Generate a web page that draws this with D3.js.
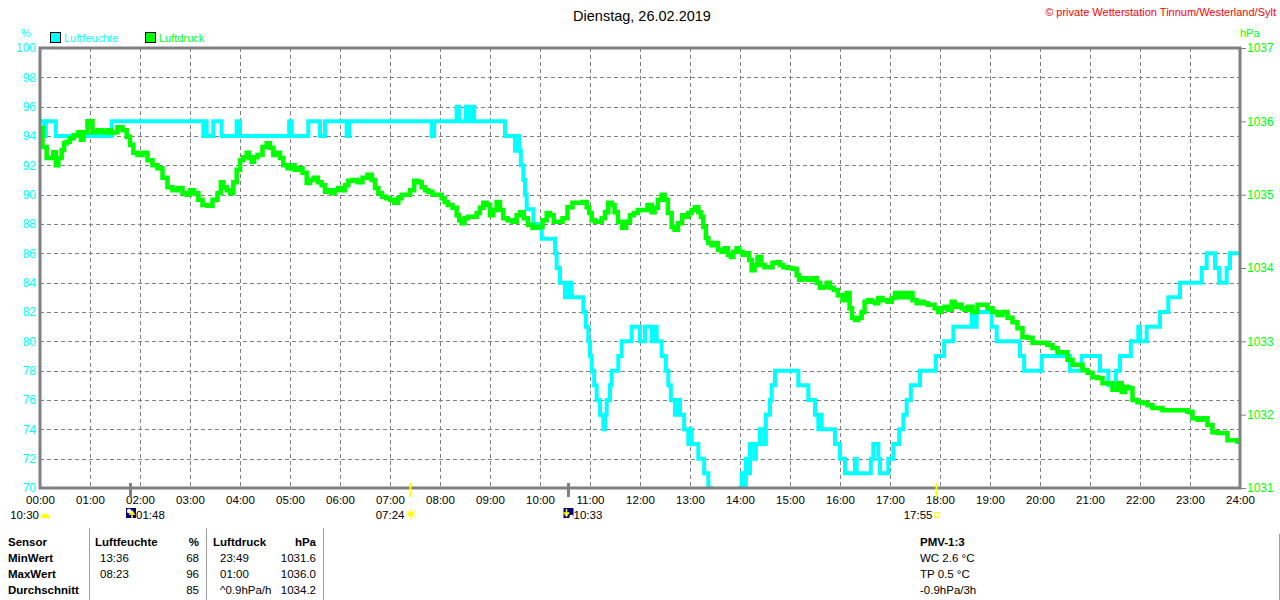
<!DOCTYPE html>
<html>
<head>
<meta charset="utf-8">
<script src="https://cdnjs.cloudflare.com/ajax/libs/d3/7.8.5/d3.min.js"></script>
<style>
  body { margin: 0; background: #fff; }
  svg { display: block; font-family: "Liberation Sans", Arial, sans-serif; }
</style>
</head>
<body>
<svg id="chart" width="1280" height="600"></svg>
<script>
// Luftfeuchte (%), minutes since midnight -> value (step series)
const HUM_MIN = [0, 5, 7, 19, 86, 196, 198, 200, 208, 218, 236, 240, 299, 302, 322, 336, 342, 368, 371, 470,
  473, 500, 503, 511, 514, 517, 521, 558, 570, 572, 575, 577, 580, 582, 584, 592, 602, 618, 620, 624,
  630, 635, 638, 652, 655, 658, 660, 662, 665, 668, 672, 676, 678, 680, 684, 686, 694, 698, 710, 720,
  726, 734, 737, 740, 746, 751, 754, 757, 762, 766, 768, 773, 778, 780, 782, 790, 797, 802, 805, 811,
  833, 840, 842, 845, 847, 850, 852, 857, 859, 864, 869, 871, 876, 878, 882, 910, 922, 930, 934, 936,
  938, 954, 960, 966, 978, 980, 997, 1000, 1006, 1008, 1018, 1024, 1031, 1036, 1040, 1045, 1056, 1075, 1085, 1096,
  1118, 1122, 1124, 1142, 1148, 1176, 1181, 1202, 1236, 1250, 1272, 1282, 1291, 1296, 1309, 1318, 1320, 1328, 1344, 1354,
  1368, 1394, 1400, 1410, 1415, 1424, 1428, 1440];
const HUM_VAL = [95, 94, 95, 94, 95, 94, 95, 94, 95, 94, 95, 94, 95, 94, 95, 94, 95, 94, 95, 94,
  95, 96, 95, 96, 95, 96, 95, 94, 93, 94, 93, 92, 91, 90, 89, 88, 87, 86, 85, 84,
  83, 84, 83, 82, 81, 80, 79, 78, 77, 76, 75, 74, 75, 76, 77, 78, 79, 80, 81, 80,
  81, 80, 81, 80, 79, 78, 77, 76, 75, 76, 75, 74, 73, 74, 73, 72, 71, 70, 69, 68,
  69, 70, 71, 70, 72, 71, 73, 72, 73, 74, 73, 75, 76, 77, 78, 77, 76, 75, 74, 75,
  74, 73, 72, 71, 72, 71, 72, 73, 72, 71, 72, 73, 74, 75, 76, 77, 78, 79, 80, 81,
  82, 81, 82, 81, 80, 79, 78, 79, 78, 79, 78, 77, 78, 79, 80, 81, 80, 81, 82, 83,
  84, 85, 86, 85, 84, 85, 86, 86];

// Luftdruck (hPa)
const PRES_MIN = [0, 6, 10, 14, 18, 20, 24, 28, 30, 34, 38, 43, 48, 50, 54, 60, 66, 72, 78, 84,
  86, 90, 96, 102, 106, 110, 114, 120, 126, 132, 138, 144, 150, 156, 162, 168, 174, 178, 182, 188,
  192, 198, 204, 210, 216, 218, 222, 226, 230, 234, 238, 242, 246, 250, 252, 256, 258, 264, 270, 274,
  278, 282, 286, 290, 294, 300, 304, 307, 312, 318, 322, 326, 331, 336, 340, 344, 348, 352, 355, 360,
  364, 368, 372, 378, 384, 390, 396, 400, 404, 408, 413, 418, 422, 428, 432, 436, 442, 446, 452, 456,
  460, 464, 468, 474, 480, 484, 487, 492, 498, 502, 504, 508, 511, 516, 522, 526, 530, 534, 538, 542,
  546, 550, 554, 558, 564, 570, 574, 578, 583, 588, 594, 600, 606, 610, 614, 619, 624, 630, 636, 642,
  648, 654, 658, 660, 664, 668, 672, 676, 680, 684, 688, 691, 696, 701, 706, 710, 715, 720, 726, 732,
  736, 739, 744, 748, 751, 756, 760, 763, 768, 773, 776, 780, 784, 788, 792, 794, 798, 800, 804, 808,
  811, 816, 820, 823, 828, 830, 834, 838, 840, 846, 850, 852, 856, 859, 863, 868, 871, 876, 882, 886,
  890, 894, 900, 906, 910, 912, 918, 924, 930, 934, 938, 942, 946, 950, 955, 960, 966, 970, 973, 976,
  980, 984, 988, 991, 996, 1000, 1004, 1008, 1014, 1020, 1024, 1028, 1032, 1036, 1040, 1044, 1050, 1054, 1058, 1063,
  1068, 1072, 1075, 1080, 1084, 1087, 1092, 1096, 1099, 1104, 1108, 1111, 1116, 1122, 1128, 1134, 1140, 1146, 1152, 1158,
  1164, 1170, 1176, 1182, 1188, 1194, 1200, 1206, 1212, 1218, 1224, 1230, 1236, 1242, 1248, 1254, 1260, 1266, 1272, 1278,
  1284, 1290, 1296, 1300, 1304, 1308, 1314, 1320, 1326, 1332, 1338, 1344, 1350, 1356, 1362, 1368, 1374, 1380, 1386, 1392,
  1398, 1404, 1410, 1416, 1422, 1428, 1434, 1440];
const PRES_VAL = [1035.91, 1035.65, 1035.50, 1035.50, 1035.58, 1035.40, 1035.50, 1035.61, 1035.70, 1035.72, 1035.77, 1035.81, 1035.85, 1035.75, 1035.85, 1036.00, 1035.85, 1035.88, 1035.85, 1035.88,
  1035.84, 1035.85, 1035.92, 1035.88, 1035.79, 1035.68, 1035.57, 1035.54, 1035.57, 1035.47, 1035.40, 1035.36, 1035.23, 1035.10, 1035.06, 1035.09, 1035.02, 1035.00, 1035.06, 1035.02,
  1034.93, 1034.86, 1034.85, 1034.93, 1035.02, 1035.17, 1035.10, 1035.06, 1035.02, 1035.17, 1035.34, 1035.47, 1035.51, 1035.57, 1035.50, 1035.45, 1035.51, 1035.54, 1035.65, 1035.70,
  1035.64, 1035.54, 1035.57, 1035.50, 1035.40, 1035.36, 1035.40, 1035.34, 1035.36, 1035.30, 1035.16, 1035.20, 1035.23, 1035.17, 1035.13, 1035.04, 1035.06, 1035.02, 1035.06, 1035.09,
  1035.06, 1035.13, 1035.19, 1035.20, 1035.17, 1035.23, 1035.27, 1035.20, 1035.09, 1035.02, 1034.97, 1034.95, 1034.93, 1034.89, 1034.95, 1035.00, 1035.00, 1035.06, 1035.19, 1035.17,
  1035.10, 1035.06, 1035.04, 1035.00, 1035.00, 1034.95, 1034.90, 1034.86, 1034.82, 1034.72, 1034.65, 1034.61, 1034.68, 1034.70, 1034.70, 1034.75, 1034.82, 1034.89, 1034.86, 1034.72,
  1034.79, 1034.90, 1034.79, 1034.68, 1034.65, 1034.63, 1034.72, 1034.76, 1034.68, 1034.59, 1034.55, 1034.56, 1034.65, 1034.75, 1034.72, 1034.63, 1034.63, 1034.68, 1034.83, 1034.89,
  1034.89, 1034.90, 1034.83, 1034.75, 1034.65, 1034.63, 1034.63, 1034.68, 1034.76, 1034.89, 1034.86, 1034.76, 1034.63, 1034.55, 1034.63, 1034.72, 1034.75, 1034.79, 1034.79, 1034.86,
  1034.76, 1034.82, 1034.93, 1035.00, 1034.93, 1034.75, 1034.56, 1034.52, 1034.61, 1034.72, 1034.70, 1034.75, 1034.79, 1034.83, 1034.76, 1034.70, 1034.56, 1034.41, 1034.34, 1034.31,
  1034.34, 1034.25, 1034.22, 1034.27, 1034.18, 1034.15, 1034.22, 1034.27, 1034.22, 1034.18, 1034.20, 1034.11, 1033.97, 1034.04, 1034.15, 1034.04, 1034.01, 1034.01, 1034.07, 1034.08,
  1034.04, 1034.01, 1034.00, 1033.99, 1033.90, 1033.84, 1033.86, 1033.84, 1033.86, 1033.80, 1033.73, 1033.74, 1033.80, 1033.73, 1033.70, 1033.63, 1033.56, 1033.66, 1033.45, 1033.32,
  1033.29, 1033.32, 1033.40, 1033.54, 1033.56, 1033.54, 1033.52, 1033.59, 1033.56, 1033.54, 1033.59, 1033.66, 1033.60, 1033.66, 1033.60, 1033.66, 1033.56, 1033.52, 1033.54, 1033.52,
  1033.50, 1033.50, 1033.45, 1033.40, 1033.45, 1033.47, 1033.43, 1033.54, 1033.47, 1033.50, 1033.45, 1033.43, 1033.47, 1033.40, 1033.50, 1033.50, 1033.45, 1033.40, 1033.36, 1033.40,
  1033.32, 1033.26, 1033.18, 1033.06, 1033.05, 1032.98, 1032.98, 1032.98, 1032.95, 1032.91, 1032.85, 1032.85, 1032.75, 1032.68, 1032.68, 1032.61, 1032.57, 1032.51, 1032.50, 1032.43,
  1032.43, 1032.34, 1032.43, 1032.31, 1032.38, 1032.36, 1032.20, 1032.17, 1032.16, 1032.13, 1032.09, 1032.09, 1032.06, 1032.06, 1032.06, 1032.06, 1032.06, 1032.04, 1031.95, 1031.93,
  1031.95, 1031.86, 1031.76, 1031.75, 1031.75, 1031.65, 1031.65, 1031.63];

const HUM_TICKS = [70, 72, 74, 76, 78, 80, 82, 84, 86, 88, 90, 92, 94, 96, 98, 100];
const PRES_TICKS = [1031, 1032, 1033, 1034, 1035, 1036, 1037];
const HOUR_LABELS = ['00:00', '01:00', '02:00', '03:00', '04:00', '05:00', '06:00', '07:00', '08:00', '09:00',
  '10:00', '11:00', '12:00', '13:00', '14:00', '15:00', '16:00', '17:00', '18:00', '19:00', '20:00', '21:00',
  '22:00', '23:00', '24:00'];

// Mond / Sonne Ereignisse
const ASTRO_TIMES = ['01:48', '07:24', '10:33', '17:55'];
const ASTRO_KINDS = ['moonrise', 'sunrise', 'moonset', 'sunset'];
const DAY_LENGTH = '10:30';

const TABLE_HEAD = ['Sensor', 'Luftfeuchte', '%', 'Luftdruck', 'hPa'];
const TABLE_ROWS = [
  ['MinWert', '13:36', '68', '23:49', '1031.6'],
  ['MaxWert', '08:23', '96', '01:00', '1036.0'],
  ['Durchschnitt', '', '85', '^0.9hPa/h', '1034.2']
];
const PMV_TITLE = 'PMV-1:3';
const PMV_LINES = ['WC 2.6 °C', 'TP 0.5 °C', '-0.9hPa/3h'];

const CYAN = '#00ffff';
const GREEN = '#00ff00';
const GRAY = '#808080';
const FONT = '"Liberation Sans", Arial, sans-serif';

const toMin = s => { const [h, m] = s.split(':').map(Number); return h * 60 + m; };

const svg = d3.select('#chart');
const pLeft = 40, pRight = 1240, pTop = 48, pBottom = 488;

const x = d3.scaleLinear().domain([0, 1440]).range([pLeft, pRight]);
const yHum = d3.scaleLinear().domain([70, 100]).range([pBottom, pTop]);
const yPres = d3.scaleLinear().domain([1031, 1037]).range([pBottom, pTop]);

// title + copyright
svg.append('text').attr('x', 642).attr('y', 21).attr('text-anchor', 'middle')
  .style('font-size', '14.5px').text('Dienstag, 26.02.2019');
svg.append('text').attr('x', 1276).attr('y', 16).attr('text-anchor', 'end')
  .attr('fill', '#ff0000').style('font-size', '11px')
  .text('© private Wetterstation Tinnum/Westerland/Sylt');

// unit labels
svg.append('text').attr('x', 26).attr('y', 37).attr('text-anchor', 'middle')
  .attr('fill', CYAN).style('font-size', '11px').text('%');
svg.append('text').attr('x', 1240).attr('y', 37)
  .attr('fill', GREEN).style('font-size', '11px').text('hPa');

// legend
const legend = svg.append('g');
[['Luftfeuchte', CYAN, 50], ['Luftdruck', GREEN, 145]].forEach(([name, col, lx]) => {
  legend.append('rect').attr('x', lx + 0.5).attr('y', 32.5).attr('width', 10).attr('height', 10)
    .attr('fill', col).attr('stroke', '#000');
  legend.append('text').attr('x', lx + 14).attr('y', 42).attr('fill', col)
    .style('font-size', '11px').text(name);
});

// grid
const grid = svg.append('g').attr('stroke', GRAY).attr('stroke-width', 1).attr('stroke-dasharray', '4,3');
grid.selectAll('line.h').data(HUM_TICKS.slice(1, -1)).join('line')
  .attr('x1', pLeft).attr('x2', pRight)
  .attr('y1', d => Math.round(yHum(d)) + 0.5).attr('y2', d => Math.round(yHum(d)) + 0.5);
grid.selectAll('line.v').data(HOUR_LABELS.slice(1, -1)).join('line')
  .attr('y1', pTop).attr('y2', pBottom)
  .attr('x1', d => x(toMin(d)) + 0.5).attr('x2', d => x(toMin(d)) + 0.5);

// series
svg.append('clipPath').attr('id', 'plot').append('rect')
  .attr('x', pLeft).attr('y', pTop).attr('width', pRight - pLeft).attr('height', pBottom - pTop);

const humData = HUM_MIN.map((m, i) => [m, HUM_VAL[i]]);
const presData = PRES_MIN.map((m, i) => [m, PRES_VAL[i]]);

const humLine = d3.line().x(d => x(d[0])).y(d => yHum(d[1])).curve(d3.curveStepAfter);
const presLine = d3.line().x(d => x(d[0])).y(d => yPres(d[1])).curve(d3.curveStep);

const plot = svg.append('g').attr('clip-path', 'url(#plot)');
plot.append('path').datum(humData).attr('d', humLine)
  .attr('fill', 'none').attr('stroke', CYAN).attr('stroke-width', 4);
plot.append('path').datum(presData).attr('d', presLine)
  .attr('fill', 'none').attr('stroke', GREEN).attr('stroke-width', 4.5);

// frame
svg.append('rect').attr('x', pLeft).attr('y', pTop).attr('width', pRight - pLeft).attr('height', pBottom - pTop)
  .attr('fill', 'none').attr('stroke', GRAY).attr('stroke-width', 3);

// axes
const axL = svg.append('g').attr('transform', `translate(${pLeft - 2},0)`)
  .call(d3.axisLeft(yHum).tickValues(HUM_TICKS).tickSize(0).tickPadding(2));
axL.select('.domain').remove();
axL.selectAll('text').attr('fill', CYAN).style('font-size', '12px').style('font-family', FONT);

const axR = svg.append('g').attr('transform', `translate(${pRight + 1},0)`)
  .call(d3.axisRight(yPres).tickValues(PRES_TICKS).tickSize(5).tickPadding(1).tickFormat(d3.format('d')));
axR.select('.domain').remove();
axR.selectAll('line').attr('stroke', GRAY);
axR.selectAll('text').attr('fill', GREEN).style('font-size', '12px').style('font-family', FONT);

const axB = svg.append('g').attr('transform', `translate(0,${pBottom + 2})`)
  .call(d3.axisBottom(x).tickValues(HOUR_LABELS.map(toMin)).tickSize(0).tickPadding(6)
    .tickFormat((d, i) => HOUR_LABELS[i]));
axB.select('.domain').remove();
axB.selectAll('text').attr('fill', '#000').style('font-size', '11.5px').style('font-family', FONT);

// astro markers
const astro = svg.append('g').style('font-size', '11.5px');
ASTRO_TIMES.forEach((t, i) => {
  const kind = ASTRO_KINDS[i];
  const ax = Math.round(x(toMin(t))) + 0.5;
  const sun = kind.startsWith('sun');
  const rising = kind.endsWith('rise');
  astro.append('line').attr('x1', ax).attr('x2', ax).attr('y1', 483).attr('y2', 497)
    .attr('stroke', sun ? '#ffff00' : GRAY).attr('stroke-width', sun ? 2 : 3);
  if (sun && rising) {
    const g = astro.append('g').attr('transform', `translate(${ax + 0.5},514)`);
    g.append('circle').attr('r', 2.8).attr('fill', '#ffff00');
    d3.range(8).forEach(k => {
      const a = k * Math.PI / 4;
      g.append('line').attr('x1', Math.cos(a) * 3.5).attr('y1', Math.sin(a) * 3.5)
        .attr('x2', Math.cos(a) * 5.5).attr('y2', Math.sin(a) * 5.5)
        .attr('stroke', '#ffff00').attr('stroke-width', 1);
    });
    astro.append('text').attr('x', ax - 6).attr('y', 519).attr('text-anchor', 'end').text(t);
  } else if (sun) {
    astro.append('rect').attr('x', ax - 2.5).attr('y', 512.5).attr('width', 5).attr('height', 5)
      .attr('fill', 'none').attr('stroke', '#ffff00').attr('stroke-width', 1);
    astro.append('text').attr('x', ax - 4).attr('y', 519).attr('text-anchor', 'end').text(t);
  } else {
    const bx = rising ? ax - 4.5 : ax - 5;
    const g = astro.append('g').attr('transform', `translate(${bx},508)`);
    g.append('rect').attr('width', 10).attr('height', 10).attr('fill', '#000080');
    if (rising) {
      g.append('circle').attr('cx', 3).attr('cy', 3).attr('r', 2.2).attr('fill', '#fff');
      g.append('path').attr('d', 'M6,10 L6,5 M4,6 L6,3 L8,6 Z').attr('stroke', '#ffff00')
        .attr('stroke-width', 1.5).attr('fill', '#ffff00');
    } else {
      g.append('circle').attr('cx', 8).attr('cy', 9).attr('r', 2.2).attr('fill', '#fff');
      g.append('path').attr('d', 'M3,1 L3,6 M1,5 L3,8 L5,5 Z').attr('stroke', '#ffff00')
        .attr('stroke-width', 1.5).attr('fill', '#ffff00');
    }
    astro.append('text').attr('x', bx + 10).attr('y', 519).text(t);
  }
});
// day length with half sun
astro.append('text').attr('x', 39).attr('y', 519).attr('text-anchor', 'end').text(DAY_LENGTH);
astro.append('path')
  .attr('d', d3.arc()({ innerRadius: 0, outerRadius: 4.5, startAngle: -Math.PI / 2, endAngle: Math.PI / 2 }))
  .attr('transform', 'translate(45,518)').attr('fill', '#ffff00');

// table
const tbl = svg.append('g').style('font-size', '11.5px');
[89, 206, 323].forEach(lx => {
  tbl.append('line').attr('x1', lx + 0.5).attr('x2', lx + 0.5).attr('y1', 528).attr('y2', 600)
    .attr('stroke', '#a0a0a0');
});
tbl.append('line').attr('x1', 1279.5).attr('x2', 1279.5).attr('y1', 534).attr('y2', 600).attr('stroke', '#a0a0a0');

const colX = [8, 95, 199, 213, 316];
const colAnchor = ['start', 'start', 'end', 'start', 'end'];
const rowY = [546, 562, 578, 594];
TABLE_HEAD.forEach((h, c) => {
  tbl.append('text').attr('x', colX[c]).attr('y', rowY[0]).attr('text-anchor', colAnchor[c])
    .style('font-weight', 'bold').text(h);
});
const cellX = [8, 100, 199, 220, 316];
TABLE_ROWS.forEach((row, r) => {
  row.forEach((v, c) => {
    tbl.append('text').attr('x', cellX[c]).attr('y', rowY[r + 1]).attr('text-anchor', colAnchor[c])
      .style('font-weight', c === 0 ? 'bold' : 'normal').text(v);
  });
});
tbl.append('text').attr('x', 920).attr('y', rowY[0]).style('font-weight', 'bold').text(PMV_TITLE);
PMV_LINES.forEach((t, i) => {
  tbl.append('text').attr('x', 920).attr('y', rowY[i + 1]).text(t);
});
</script>
</body>
</html>
